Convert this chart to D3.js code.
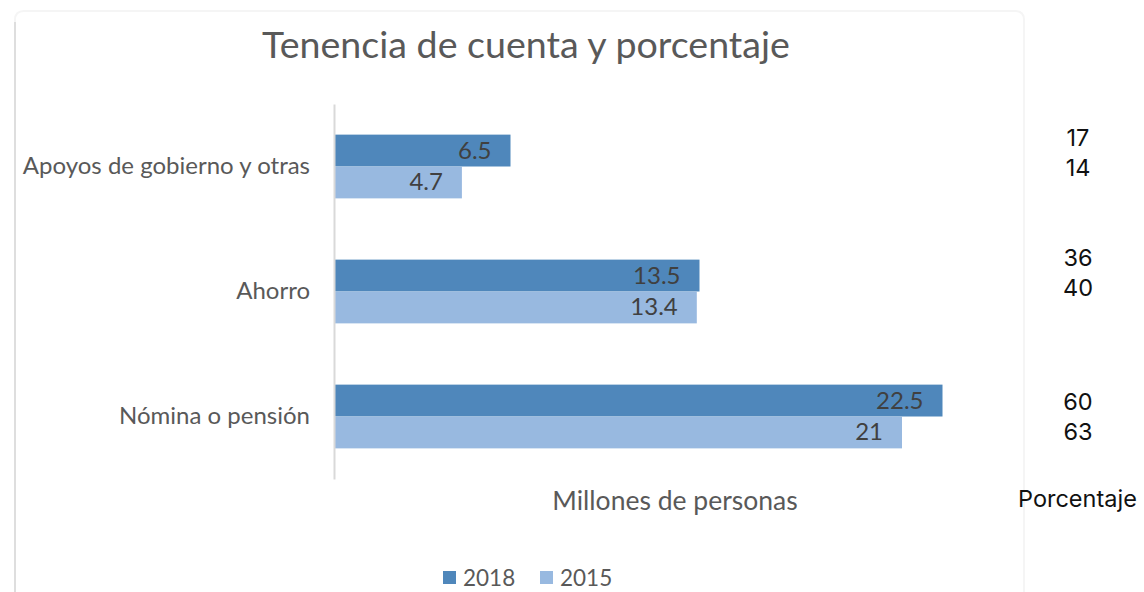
<!DOCTYPE html>
<html>
<head>
<meta charset="utf-8">
<script src="https://cdn.jsdelivr.net/npm/d3@7"></script>
<style>
  body { margin: 0; background: #fff; }
  svg { display: block; }
</style>
</head>
<body>
<div id="chart"></div>
<script>
// data
const categories = ['Apoyos de gobierno y otras', 'Ahorro', 'Nómina o pensión']
const series = ['2018', '2015']
const values2018 = [6.5, 13.5, 22.5]
const values2015 = [4.7, 13.4, 21]
const pct2018 = [17, 36, 60]
const pct2015 = [14, 40, 63]

const w = 1144
const h = 592
const colours = { '2018': '#4f87bb', '2015': '#98b9e0' }
const labelFont = 'Lato, Carlito, Calibri, sans-serif'

const svg = d3.select('#chart')
    .append('svg')
    .attr('width', w)
    .attr('height', h)

// chart frame
svg.append('path')
    .attr('d', 'M15,600 L15,20 Q15,11 24,11 L1015,11 Q1024,11 1024,20 L1024,600')
    .attr('fill', 'none')
    .attr('stroke', '#f5f5f5')
    .attr('stroke-width', 2)
svg.append('line')
    .attr('x1', 15).attr('x2', 15)
    .attr('y1', 22).attr('y2', 600)
    .attr('stroke', '#dedede')
    .attr('stroke-width', 2)

// title
svg.append('text')
    .attr('x', 526)
    .attr('y', 58)
    .attr('text-anchor', 'middle')
    .attr('font-family', labelFont)
    .attr('font-size', 37.6)
    .attr('fill', '#595959')
    .text('Tenencia de cuenta y porcentaje')

// scales
const xScale = d3.scaleLinear()
    .domain([0, 25])
    .range([335, 1010])

const yScale = d3.scaleBand()
    .domain(categories)
    .range([104, 479])
    .paddingInner(0.49)
    .paddingOuter(0.245)

const ySub = d3.scaleBand()
    .domain(series)
    .range([0, yScale.bandwidth()])

const rows = categories.map((c, i) => ({
    cat: c,
    bars: [
        { key: '2018', value: values2018[i], pct: pct2018[i] },
        { key: '2015', value: values2015[i], pct: pct2015[i] }
    ]
}))

// bars
const groups = svg.selectAll('g.cat')
    .data(rows)
    .enter()
    .append('g')
    .attr('class', 'cat')
    .attr('transform', d => `translate(0,${yScale(d.cat)})`)

groups.selectAll('rect')
    .data(d => d.bars)
    .enter()
    .append('rect')
    .attr('x', xScale(0))
    .attr('y', d => ySub(d.key))
    .attr('width', d => xScale(d.value) - xScale(0))
    .attr('height', ySub.bandwidth())
    .attr('fill', d => colours[d.key])

// data labels inside end
groups.selectAll('text.val')
    .data(d => d.bars)
    .enter()
    .append('text')
    .attr('class', 'val')
    .attr('x', d => xScale(d.value) - 19)
    .attr('y', d => ySub(d.key) + ySub.bandwidth() / 2 + 8)
    .attr('text-anchor', 'end')
    .attr('font-family', labelFont)
    .attr('font-size', 24)
    .attr('fill', '#404040')
    .text(d => d.value)

// y axis
const yAxis = d3.axisLeft(yScale).tickSize(0).tickPadding(24)
const gy = svg.append('g')
    .attr('transform', `translate(${xScale(0) - 1},0)`)
    .call(yAxis)
gy.select('.domain')
    .attr('stroke', '#d9d9d9')
    .attr('stroke-width', 2)
gy.selectAll('text')
    .attr('font-family', labelFont)
    .attr('font-size', 24)
    .attr('fill', '#595959')

// axis title
svg.append('text')
    .attr('x', 675)
    .attr('y', 510)
    .attr('text-anchor', 'middle')
    .attr('font-family', labelFont)
    .attr('font-size', 26.5)
    .attr('fill', '#595959')
    .text('Millones de personas')

// percentages column
const pctFont = 'Inter, Roboto, sans-serif'
const pctRows = [
    { y: yScale(categories[0]) + 11, vals: [pct2018[0], pct2015[0]] },
    { y: yScale(categories[1]) + 6, vals: [pct2018[1], pct2015[1]] },
    { y: yScale(categories[2]) + 25, vals: [pct2018[2], pct2015[2]] }
]
pctRows.forEach(r => {
    r.vals.forEach((v, j) => {
        svg.append('text')
            .attr('x', 1078)
            .attr('y', r.y + j * 30)
            .attr('text-anchor', 'middle')
            .attr('font-family', pctFont)
            .attr('font-size', 23.5)
            .attr('fill', '#111')
            .text(v)
    })
})
svg.append('text')
    .attr('x', 1018)
    .attr('y', 507)
    .attr('font-family', pctFont)
    .attr('font-size', 23.5)
    .attr('fill', '#111')
    .text('Porcentaje')

// legend
const legend = svg.selectAll('g.legend')
    .data(series)
    .enter()
    .append('g')
    .attr('class', 'legend')
    .attr('transform', (d, i) => `translate(${443 + i * 97},571)`)
legend.append('rect')
    .attr('width', 13)
    .attr('height', 13)
    .attr('fill', d => colours[d])
legend.append('text')
    .attr('x', 20)
    .attr('y', 15)
    .attr('font-family', labelFont)
    .attr('font-size', 22.5)
    .attr('fill', '#595959')
    .text(d => d)
</script>
</body>
</html>
